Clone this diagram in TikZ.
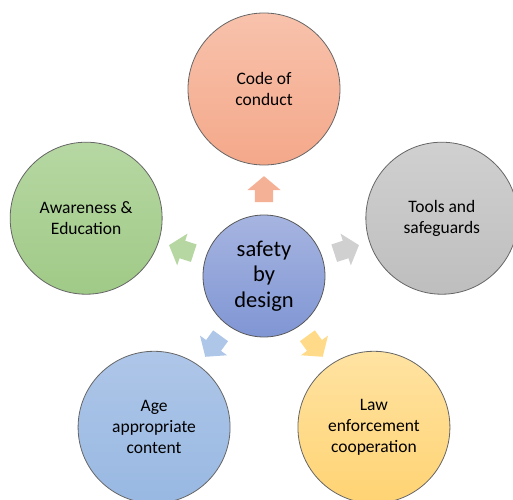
\documentclass[tikz,border=0pt]{standalone}
\usepackage{fontspec}
\setmainfont{Carlito}
\usetikzlibrary{calc,shapes.arrows}

\definecolor{codetop}{RGB}{248,194,172}
\definecolor{codebot}{RGB}{244,168,138}
\definecolor{tooltop}{RGB}{208,208,208}
\definecolor{toolbot}{RGB}{190,190,190}
\definecolor{lawtop}{RGB}{255,227,162}
\definecolor{lawbot}{RGB}{255,211,115}
\definecolor{agetop}{RGB}{174,198,232}
\definecolor{agebot}{RGB}{152,184,226}
\definecolor{awaretop}{RGB}{182,215,162}
\definecolor{awarebot}{RGB}{160,202,135}
\definecolor{hubtop}{RGB}{166,180,224}
\definecolor{hubbot}{RGB}{128,150,212}

\begin{document}
\begin{tikzpicture}[x=1pt,y=1pt,font=\fontsize{17.5}{21}\selectfont]
\tikzstyle{petal}=[circle,minimum size=152pt,inner sep=0pt,align=center,
    draw=black!60,line width=0.8pt]
\tikzstyle{pointer}=[single arrow,minimum height=26pt,inner xsep=0pt,
    inner ysep=9pt,single arrow head extend=7.5pt,single arrow tip angle=100,
    draw=none]

\useasboundingbox (0,0) rectangle (513,499);

\node[circle,minimum size=122pt,inner sep=0pt,align=center,draw=black!65,
    line width=0.8pt,top color=hubtop,bottom color=hubbot,
    font=\fontsize{22.5}{25.5}\selectfont]
    (S) at (264,223) {safety\\by\\design};

\node[petal,top color=codetop,bottom color=codebot]
    (C) at ($(S)+(90:187)$) {Code of\\conduct};
\node[petal,top color=tooltop,bottom color=toolbot]
    (T) at ($(S)+(18:187)$) {Tools and\\safeguards};
\node[petal,top color=lawtop,bottom color=lawbot]
    (L) at ($(S)+(-54:187)$) {Law\\enforcement\\cooperation};
\node[petal,top color=agetop,bottom color=agebot]
    (A) at ($(S)+(-126:187)$) {Age\\appropriate\\content};
\node[petal,top color=awaretop,bottom color=awarebot]
    (E) at ($(S)+(162:187)$) {Awareness \&\\Education};

\node[pointer,fill=codebot!90!white,rotate=90]   (pC) at ($(S)!83pt!(C)$) {};
\node[pointer,fill=tooltop,rotate=18]            (pT) at ($(S)!83pt!(T)$) {};
\node[pointer,fill=lawbot!85!white,rotate=-54]   (pL) at ($(S)!83pt!(L)$) {};
\node[pointer,fill=agetop,rotate=-126]           (pA) at ($(S)!83pt!(A)$) {};
\node[pointer,fill=awaretop,rotate=162]          (pE) at ($(S)!83pt!(E)$) {};
\end{tikzpicture}
\end{document}
